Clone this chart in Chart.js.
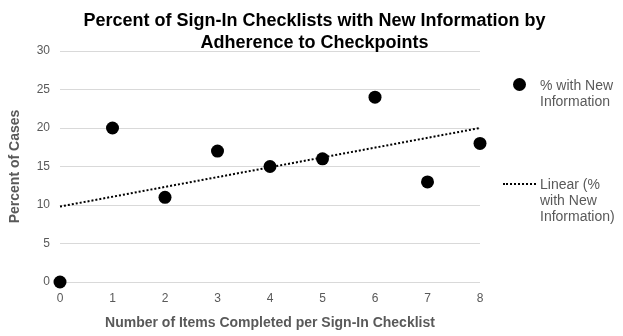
<!DOCTYPE html>
<html>
<head>
<meta charset="utf-8">
<script src="https://cdn.jsdelivr.net/npm/chart.js@4"></script>
<style>
  body { margin: 0; background: #fff; }
  .wrap { position: relative; width: 623px; height: 336px; font-family: Arial, "Liberation Sans", sans-serif; }
  .title { position: absolute; left: 0; top: 9px; width: 623px; text-align: center; font-weight: bold; font-size: 18px; line-height: 22px; color: #000; padding-left: 6px; box-sizing: border-box; }
  .legend { position: absolute; color: #595959; font-size: 14px; line-height: 16px; }
  .dot { position: absolute; width: 13px; height: 13px; border-radius: 50%; background: #000; }
  .dash { position: absolute; width: 33px; border-top: 2px dotted #000; }
</style>
</head>
<body>
<div class="wrap">
  <canvas id="myChart" width="623" height="336"></canvas>
  <div class="title">Percent of Sign-In Checklists with New Information by<br>Adherence to Checkpoints</div>
  <div class="dot" style="left:513px; top:78px;"></div>
  <div class="legend" style="left:540px; top:77px;">% with New<br>Information</div>
  <div class="dash" style="left:503px; top:183px;"></div>
  <div class="legend" style="left:540px; top:176px;">Linear (%<br>with New<br>Information)</div>
</div>
<script>
// items completed (x) and percent of cases (y)
const itemsCompleted = [0, 1, 2, 3, 4, 5, 6, 7, 8];
const percentCases = [0, 20, 11, 17, 15, 16, 24, 13, 18];
// trendline end values
const trendX = [0, 8];
const trendY = [9.8, 20];

const points = itemsCompleted.map((x, i) => ({ x: x, y: percentCases[i] }));
const trend = trendX.map((x, i) => ({ x: x, y: trendY[i] }));

const ctx = document.getElementById('myChart').getContext('2d');
new Chart(ctx, {
    type: 'scatter',
    data: {
        datasets: [{
            label: '% with New Information',
            data: points,
            backgroundColor: '#000',
            borderColor: '#000',
            pointRadius: 6.5,
            pointHoverRadius: 6.5,
            borderWidth: 0,
            clip: false,
            order: 1
        }, {
            label: 'Linear (% with New Information)',
            type: 'line',
            data: trend,
            borderColor: '#000',
            borderWidth: 2,
            borderDash: [2, 2],
            pointRadius: 0,
            fill: false,
            clip: false,
            order: 2
        }]
    },
    options: {
        responsive: false,
        animation: false,
        layout: { padding: { top: 51, right: 143, left: 0, bottom: 0 } },
        plugins: {
            legend: { display: false },
            tooltip: { enabled: false }
        },
        scales: {
            x: {
                type: 'linear',
                min: 0,
                max: 8,
                ticks: { stepSize: 1, color: '#595959', font: { family: 'Arial', size: 12 }, padding: 1 },
                grid: { display: false },
                border: { display: false },
                title: {
                    display: true,
                    text: 'Number of Items Completed per Sign-In Checklist',
                    color: '#595959',
                    font: { family: 'Arial', size: 14, weight: 'bold' },
                    padding: { top: 13 }
                },
                afterFit: function(scale) { scale.height = 54; }
            },
            y: {
                min: 0,
                max: 30,
                ticks: { stepSize: 5, color: '#595959', font: { family: 'Arial', size: 12 }, padding: 10 },
                grid: { color: '#d9d9d9', drawTicks: false },
                border: { display: false },
                title: {
                    display: true,
                    text: 'Percent of Cases',
                    color: '#595959',
                    font: { family: 'Arial', size: 14, weight: 'bold' },
                    padding: { top: 7, bottom: 6 }
                },
                afterFit: function(scale) { scale.width = 60; }
            }
        }
    }
});
</script>
</body>
</html>
